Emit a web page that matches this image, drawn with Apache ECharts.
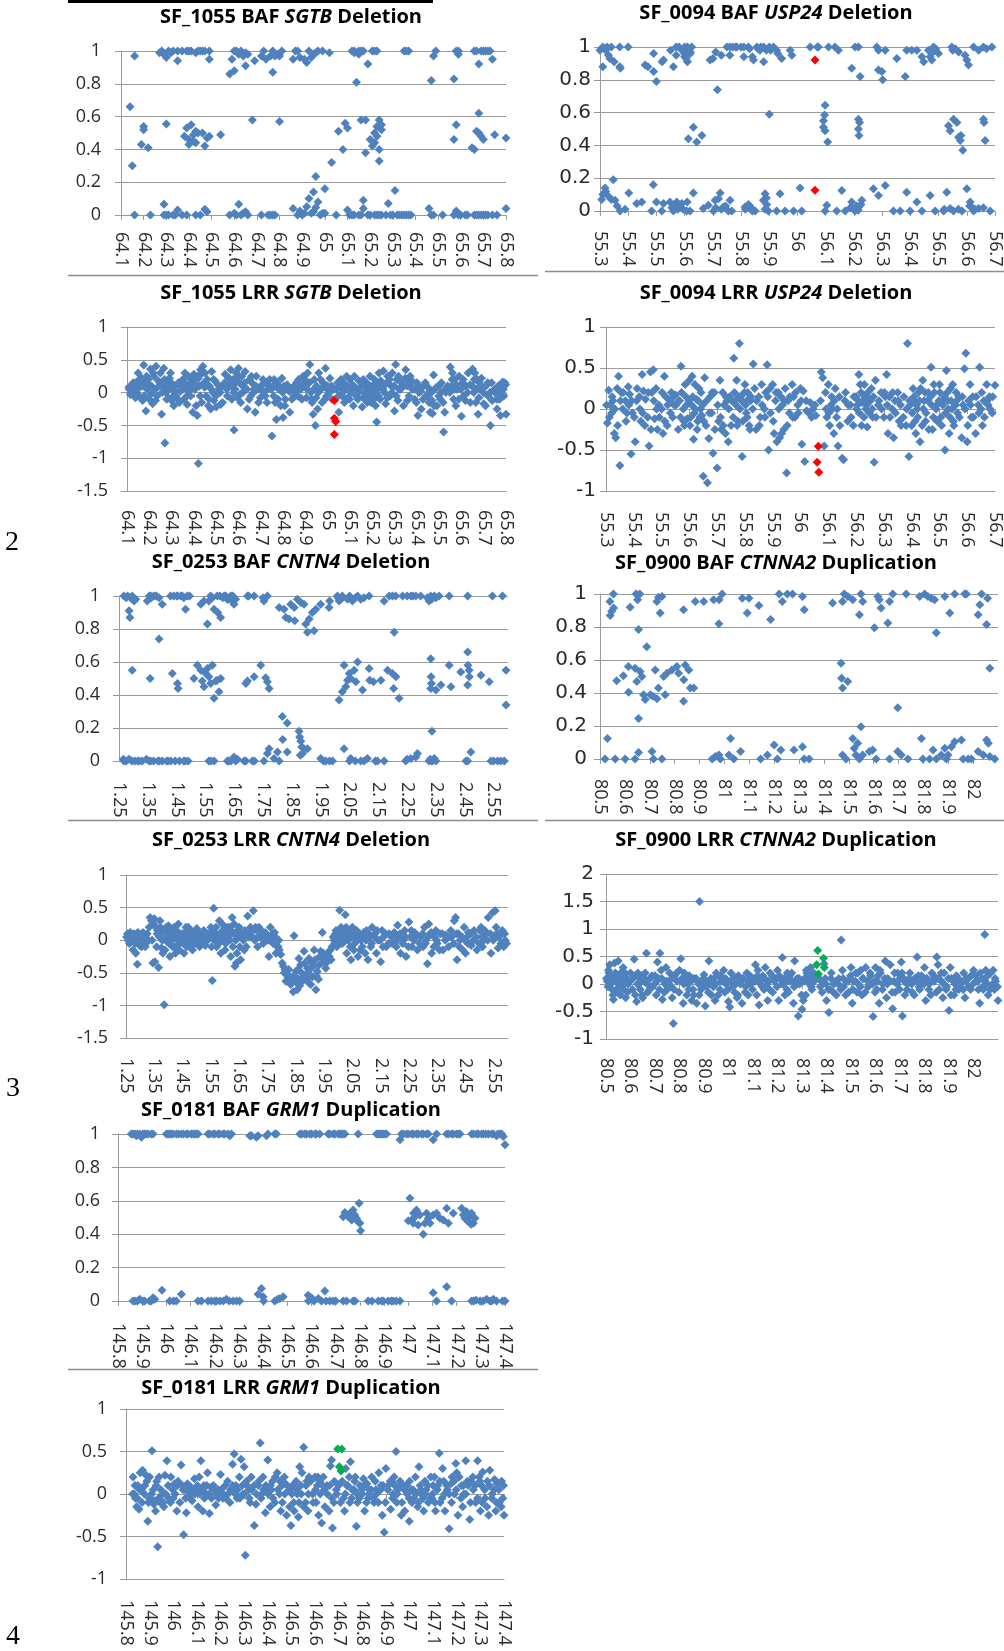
<!DOCTYPE html>
<html>
<head>
<meta charset="utf-8">
<title>BAF / LRR scatter plots</title>
<script src="https://cdn.jsdelivr.net/npm/echarts@6/dist/echarts.min.js"></script>
<style>
  html, body { margin: 0; padding: 0; background: #ffffff; }
  #chart { width: 1004px; height: 1651px; }
</style>
</head>
<body>
<div id="chart"></div>
<script>
// ---- SF_1055, SGTB region (position in Mb) ----
const baf1055 = [
  [64.16,0.97],[64.27,0.99],[64.28,1],[64.29,0.98],[64.30,0.96],[64.31,1],[64.32,0.99],[64.35,0.94],[64.35,1],[64.39,1],[64.41,1],[64.43,0.99],[64.45,1],[64.47,1],[64.49,0.95],[64.49,1],
  [64.58,0.86],[64.60,0.88],[64.59,0.95],[64.60,1],[64.62,0.98],[64.63,1],[64.65,0.99],[64.66,0.98],[64.65,0.91],[64.69,0.94],
  [64.72,0.97],[64.74,0.95],[64.76,0.97],[64.77,1],[64.77,0.87],[64.78,0.97],[64.79,0.98],[64.81,1],
  [64.86,0.95],[64.88,1],[64.89,0.96],[64.92,0.93],[64.94,0.96],[64.93,1],[64.95,0.98],[64.96,0.99],[64.99,1],[65.02,0.99],
  [65.12,1],[65.13,1],[65.14,0.81],[65.15,0.98],[65.16,1],[65.17,1],[65.19,0.92],[65.21,1],[65.23,1],
  [65.35,1],[65.37,1],[65.47,0.82],[65.48,0.97],[65.49,1],[65.57,0.83],[65.59,0.98],[65.59,1],
  [65.66,1],[65.68,0.92],[65.69,1],[65.71,1],[65.72,1],[65.74,0.95],
  [64.33,1],[64.37,1],[64.40,1],[64.44,1],[64.46,1],[64.61,1],[64.64,0.97],[64.73,1],[64.80,0.97],[64.87,1],[64.91,0.95],[64.97,1],[65.13,0.99],[65.15,1],[65.22,1],[65.36,1],[65.58,1],[65.67,1],[65.70,1],[65.73,1],
  [64.14,0.66],[64.15,0.30],[64.20,0.54],[64.20,0.52],[64.19,0.43],[64.22,0.41],[64.30,0.555],
  [64.38,0.48],[64.39,0.53],[64.40,0.46],[64.41,0.55],[64.42,0.49],[64.43,0.51],[64.43,0.44],[64.40,0.43],[64.44,0.50],[64.42,0.45],[64.46,0.50],[64.47,0.42],[64.48,0.47],[64.49,0.48],[64.54,0.49],[64.68,0.58],[64.80,0.57],
  [65.06,0.51],[65.08,0.40],[65.09,0.56],[65.10,0.53],[65.16,0.58],[65.18,0.58],[65.18,0.38],
  [65.20,0.46],[65.21,0.42],[65.22,0.44],[65.22,0.50],[65.23,0.54],[65.24,0.58],[65.24,0.33],[65.24,0.40],[65.23,0.48],[65.25,0.52],[65.25,0.55],
  [65.58,0.55],[65.57,0.46],[65.65,0.41],[65.66,0.40],[65.68,0.62],[65.67,0.51],[65.69,0.48],[65.70,0.46],[65.68,0.50],[65.75,0.49],[65.80,0.47],
  [64.93,0.10],[64.95,0.14],[64.96,0.235],[64.97,0.08],[65.00,0.16],[65.03,0.32],[65.17,0.09],[65.28,0.07],[65.31,0.15],
  [64.16,0],[64.23,0],[64.29,0.065],[64.29,0],[64.31,0],[64.33,0],[64.35,0.03],[64.39,0],[64.43,0],[64.47,0.035],[64.48,0.02],[64.58,0],[64.60,0.01],[64.62,0.065],[64.63,0],[64.65,0.02],[64.64,0.01],
  [64.72,0],[64.75,0],[64.77,0],[64.86,0.04],[64.89,0.025],[64.90,0],[64.92,0.05],[64.94,0.01],[64.96,0.045],[64.98,0],[65.00,0.01],[65.05,0],[65.10,0.03],[65.12,0],[65.15,0],[65.17,0.04],[65.19,0],
  [65.22,0],[65.24,0],[65.27,0],[65.30,0],[65.32,0],[65.34,0],[65.36,0],[65.38,0],[65.46,0.04],[65.47,0],[65.52,0],[65.58,0.025],[65.60,0],[65.62,0],[65.66,0],[65.68,0],[65.70,0],[65.72,0],[65.76,0],[65.80,0.04],
  [64.30,0],[64.34,0],[64.37,0],[64.45,0],[64.61,0],[64.66,0],[64.76,0],[64.78,0],[64.88,0],[64.91,0.01],[64.95,0.02],[64.99,0.01],[65.11,0],[65.13,0],[65.16,0],[65.20,0],[65.23,0],[65.25,0],[65.29,0],[65.33,0],[65.35,0],[65.37,0],[65.48,0],[65.57,0],[65.59,0],[65.63,0],[65.67,0],[65.69,0],[65.71,0],[65.74,0]
];
const lrr1055 = [
  [64.11,0.05],[64.115,-0.03],[64.12,0.1],[64.125,0.08],[64.13,-0.02],[64.135,0.12],[64.14,0.02],[64.145,0.17],[64.15,0.3],[64.155,-0.05],[64.16,0.1],[64.165,0.22],
  [64.17,-0.12],[64.175,0.42],[64.18,0.15],[64.185,-0.28],[64.19,0.05],[64.195,0.2],[64.2,-0.1],[64.205,0.36],[64.21,0.1],[64.215,-0.17],[64.22,0.25],[64.225,0.05],[64.23,0.4],[64.235,-0.05],[64.24,0.18],
  [64.25,0.3],[64.255,-0.33],[64.26,0.08],[64.265,0.37],[64.27,-0.77],[64.275,0.0],[64.28,0.12],[64.285,-0.08],[64.29,0.22],[64.295,0.3],[64.3,-0.12],[64.305,0.05],[64.31,-0.2],[64.315,0.1],[64.32,-0.05],[64.33,0.15],[64.335,-0.15],[64.34,0.02],
  [64.35,0.2],[64.355,-0.1],[64.36,0.3],[64.365,0.08],[64.37,-0.18],[64.375,0.25],[64.38,0.12],[64.385,-0.05],[64.39,0.18],[64.395,-0.3],[64.4,0.28],[64.405,0.05],[64.41,-0.2],[64.415,-0.35],[64.42,-1.08],[64.42,0.22],[64.425,0.1],[64.43,0.35],[64.435,-0.15],[64.44,0.4],[64.445,0.15],
  [64.45,0.3],[64.455,-0.05],[64.46,0.2],[64.465,-0.2],[64.47,0.1],[64.475,-0.25],[64.48,0.32],[64.485,0.0],[64.49,-0.12],[64.495,0.18],[64.5,-0.22],[64.51,0.05],[64.52,-0.18],[64.53,0.1],[64.54,0.28],
  [64.55,-0.05],[64.56,0.12],[64.565,0.35],[64.57,-0.1],[64.575,0.2],[64.58,-0.57],[64.585,0.05],[64.59,0.3],[64.595,-0.08],[64.6,0.37],[64.605,0.15],[64.61,-0.15],[64.615,0.25],[64.62,0.0],[64.63,0.32],[64.64,-0.25],
  [64.65,0.2],[64.655,-0.05],[64.66,0.15],[64.67,0.05],[64.675,-0.3],[64.68,0.25],[64.69,-0.15],[64.7,0.1],[64.71,0.2],[64.72,-0.05],[64.73,0.05],
  [64.74,0.2],[64.75,-0.66],[64.755,0.1],[64.76,0.2],[64.765,-0.15],[64.77,-0.41],[64.775,0.15],[64.78,0.05],[64.79,-0.2],[64.795,0.22],[64.8,-0.38],[64.805,0.1],[64.81,-0.1],[64.82,0.05],[64.83,-0.3],[64.84,-0.1],
  [64.85,0.1],[64.86,0.15],[64.865,-0.05],[64.87,0.2],[64.88,0.05],[64.885,-0.1],[64.89,0.25],[64.9,0.1],[64.905,-0.08],[64.91,0.3],[64.92,0.43],[64.925,0.0],[64.93,-0.15],[64.935,-0.33],[64.94,0.2],[64.945,-0.5],
  [64.95,0.1],[64.955,-0.25],[64.96,0.3],[64.97,0.05],[64.975,-0.15],[64.98,0.15],[64.99,0.37],[64.995,-0.05],[65.0,0.1],[65.01,0.22],[65.02,-0.1],[65.04,0.05],[65.045,0.15],
  [65.05,-0.3],[65.055,0.1],[65.06,0.2],[65.065,-0.05],[65.07,0.15],[65.075,-0.15],[65.08,0.05],[65.085,0.25],[65.09,-0.08],[65.1,0.2],[65.105,0.0],[65.11,0.12],[65.115,-0.2],[65.12,0.25],[65.13,0.05],[65.135,-0.1],[65.14,0.18],
  [65.15,0.1],[65.155,-0.22],[65.16,0.2],[65.165,0.0],[65.17,-0.1],[65.175,0.15],[65.18,0.05],[65.185,-0.05],[65.19,0.25],[65.195,-0.15],[65.2,0.1],[65.205,0.0],[65.21,0.2],[65.215,-0.2],[65.22,-0.45],[65.225,0.05],[65.23,0.3],[65.235,-0.1],[65.24,0.1],
  [65.25,0.33],[65.255,0.0],[65.26,-0.17],[65.265,0.15],[65.27,0.25],[65.28,-0.05],[65.285,0.1],[65.29,0.3],[65.3,-0.28],[65.305,0.43],[65.31,0.2],[65.315,-0.12],[65.32,0.05],[65.33,0.15],[65.34,-0.2],
  [65.35,0.35],[65.355,0.1],[65.36,0.2],[65.365,-0.05],[65.37,0.25],[65.38,0.05],[65.39,-0.1],[65.4,0.15],[65.405,-0.35],[65.41,0.0],[65.42,-0.25],[65.43,0.1],[65.44,-0.05],
  [65.45,0.08],[65.455,-0.15],[65.46,-0.3],[65.465,0.0],[65.47,-0.32],[65.475,0.27],[65.48,0.05],[65.49,-0.2],[65.5,0.1],[65.505,-0.1],[65.51,0.15],[65.52,-0.6],[65.525,-0.3],[65.53,0.0],
  [65.55,0.39],[65.555,0.1],[65.56,0.3],[65.565,-0.1],[65.57,0.2],[65.575,-0.2],[65.58,0.05],[65.59,0.25],[65.6,-0.36],[65.605,0.15],[65.61,-0.05],[65.62,0.1],[65.63,0.3],[65.64,-0.15],
  [65.65,0.36],[65.655,0.0],[65.66,0.3],[65.665,-0.15],[65.67,0.2],[65.675,-0.33],[65.68,0.15],[65.685,0.05],[65.69,0.22],[65.7,-0.17],[65.71,0.1],[65.72,-0.05],[65.73,-0.5],[65.735,0.15],
  [65.75,0.0],[65.76,-0.25],[65.765,0.1],[65.77,-0.1],[65.775,-0.35],[65.78,0.05],[65.785,0.16],[65.79,-0.05],[65.795,0.15],[65.8,-0.33],
  [64.108,0.08],[64.118,0.0],[64.128,0.15],[64.138,-0.08],[64.148,0.05],[64.158,0.2],[64.168,0.1],[64.178,-0.05],[64.188,0.25],[64.198,0.12],[64.208,-0.02],[64.218,0.3],[64.228,-0.12],[64.238,0.08],[64.248,0.15],[64.258,0.0],[64.268,0.2],[64.278,-0.1],[64.288,0.05],[64.298,0.15],
  [64.308,-0.05],[64.318,0.02],[64.328,-0.1],[64.338,0.1],[64.348,0.05],[64.358,0.15],[64.368,-0.05],[64.378,0.02],[64.388,0.1],[64.398,0.2],[64.408,0.12],[64.418,0.25],[64.428,-0.05],[64.438,0.3],[64.448,0.08],[64.458,0.12],[64.468,-0.1],[64.478,0.05],[64.488,0.2],[64.498,-0.05],
  [64.508,0.12],[64.518,0.0],[64.528,-0.15],[64.538,0.15],[64.548,0.05],[64.558,0.22],[64.568,0.1],[64.578,0.0],[64.588,0.15],[64.598,0.25],[64.608,-0.02],[64.618,0.1],[64.628,0.15],[64.638,0.05],[64.648,-0.1],[64.658,0.25],[64.668,0.0],[64.678,0.1],[64.688,0.05],[64.698,-0.08],
  [64.708,0.02],[64.718,0.15],[64.728,-0.15],[64.738,0.1],[64.748,0.05],[64.758,-0.05],[64.768,0.1],[64.778,-0.1],[64.788,0.08],[64.798,0.0],[64.808,-0.2],[64.818,0.12],[64.828,0.02],[64.838,0.05],[64.848,-0.05],[64.858,0.02],[64.868,0.1],[64.878,-0.08],[64.888,0.12],[64.898,0.2],
  [64.908,0.05],[64.918,0.15],[64.928,-0.1],[64.938,0.05],[64.948,-0.08],[64.958,0.0],[64.968,0.2],[64.978,0.08],[64.988,-0.1],[64.998,0.05],[65.008,0.0],[65.018,0.1],[65.028,0.05],[65.048,-0.05],[65.058,0.08],[65.068,0.0],[65.078,0.12],[65.088,0.1],[65.098,-0.1],
  [65.108,0.05],[65.118,0.1],[65.128,-0.05],[65.138,0.0],[65.148,0.08],[65.158,-0.08],[65.168,0.12],[65.178,-0.15],[65.188,0.1],[65.198,0.05],[65.208,-0.1],[65.218,0.12],[65.228,-0.05],[65.238,0.18],[65.248,0.05],[65.258,0.12],[65.268,-0.08],[65.278,0.2],[65.288,0.0],[65.298,0.1],
  [65.308,-0.05],[65.318,0.25],[65.328,0.05],[65.338,0.1],[65.348,0.22],[65.358,-0.12],[65.368,0.12],[65.378,0.18],[65.388,0.05],[65.398,-0.15],[65.408,0.1],[65.418,0.02],[65.428,-0.1],[65.438,0.15],[65.448,-0.05],[65.458,0.02],[65.468,-0.12],[65.478,-0.2],[65.488,0.08],[65.498,-0.05],
  [65.508,0.0],[65.518,-0.15],[65.528,0.05],[65.538,0.1],[65.548,0.0],[65.558,0.2],[65.568,0.05],[65.578,0.12],[65.588,-0.1],[65.598,0.05],[65.608,0.2],[65.618,-0.12],[65.628,0.0],[65.638,0.12],[65.648,0.1],[65.658,0.2],[65.668,0.05],[65.678,-0.08],[65.688,0.1],[65.698,0.0],
  [65.708,-0.2],[65.718,0.15],[65.728,0.0],[65.738,-0.12],[65.748,0.05],[65.758,-0.1],[65.768,0.0],[65.778,-0.08],[65.788,0.05],[65.798,0.12]
];
const lrr1055Del = [[65.03,-0.12],[65.03,-0.39],[65.036,-0.44],[65.03,-0.64]];

// ---- SF_0094, USP24 region ----
const baf0094 = [
  [55.30,0.98],[55.31,0.88],[55.32,0.98],[55.33,0.95],[55.34,1],[55.335,0.93],[55.35,0.91],
  [55.37,1],[55.37,0.88],[55.372,0.87],[55.40,1],[55.46,0.89],[55.47,0.88],[55.49,0.96],[55.49,0.85],[55.50,0.79],[55.52,0.91],[55.525,0.92],
  [55.55,0.98],[55.56,0.88],[55.57,0.95],[55.57,1],[55.58,1],[55.59,0.98],[55.60,0.94],[55.60,0.96],[55.61,1],[55.61,0.91],[55.62,0.96],[55.625,1],[55.615,0.97],[55.605,0.93],
  [55.69,0.92],[55.70,0.93],[55.71,0.97],[55.716,0.74],
  [55.73,0.95],[55.75,1],[55.76,0.95],[55.77,1],[55.785,1],[55.81,0.94],[55.81,1],[55.826,1],[55.84,0.94],[55.844,0.92],[55.856,1],[55.867,0.98],[55.88,1],[55.88,0.91],[55.89,0.98],
  [55.915,1],[55.926,0.98],[55.93,0.96],[55.944,0.93],[55.974,0.98],[55.98,0.95],
  [56.045,1],[56.074,1],[56.11,1],[56.133,1],[56.145,0.98],
  [56.192,0.87],[56.204,1],[56.216,1],[56.222,0.82],
  [56.281,1],[56.287,0.98],[56.287,0.86],[56.299,0.85],[56.302,0.80],[56.311,0.98],[56.352,0.93],
  [56.382,0.82],[56.387,0.98],[56.405,0.98],[56.423,0.98],[56.441,0.94],[56.447,0.91],[56.464,0.98],[56.47,0.94],[56.476,0.92],[56.482,1],[56.488,0.98],[56.50,0.96],
  [56.547,1],[56.559,0.99],[56.571,0.97],[56.594,0.95],[56.60,0.92],[56.606,0.89],[56.624,1],[56.642,0.98],[56.659,1],[56.689,1],
  [55.31,1],[55.325,1],[55.60,1],[55.595,0.99],[55.62,0.97],[55.76,1],[55.78,1],[55.80,1],[55.83,0.99],[55.86,0.99],[55.87,1],[55.90,1],[55.905,0.98],[56.07,1],[56.48,0.97],[56.49,0.99],[56.55,0.98],[56.67,0.99],
  [55.613,0.44],[55.631,0.51],[55.643,0.42],[55.661,0.46],[55.90,0.59],
  [56.098,0.645],[56.096,0.585],[56.092,0.55],[56.092,0.51],[56.098,0.49],[56.107,0.42],
  [56.216,0.56],[56.22,0.54],[56.216,0.50],[56.218,0.46],
  [56.535,0.52],[56.541,0.49],[56.553,0.56],[56.565,0.54],[56.571,0.45],[56.577,0.43],[56.579,0.46],[56.586,0.37],
  [56.659,0.56],[56.661,0.54],[56.665,0.43],
  [55.306,0.07],[55.318,0.14],[55.33,0.09],[55.347,0.19],[55.353,0.065],[55.361,0.03],[55.371,0],[55.389,0.01],[55.402,0.11],
  [55.43,0.045],[55.448,0.055],[55.483,0],[55.489,0.16],[55.50,0.055],[55.519,0],[55.525,0.045],
  [55.548,0.055],[55.56,0],[55.572,0.055],[55.584,0.025],[55.607,0],[55.609,0.055],[55.619,0],[55.631,0.11],
  [55.666,0.015],[55.684,0.035],[55.702,0],[55.708,0.065],[55.72,0.075],[55.726,0.11],[55.737,0.025],[55.755,0],[55.761,0.065],[55.767,0],
  [55.814,0.025],[55.826,0.04],[55.838,0.015],[55.85,0],
  [55.879,0.065],[55.885,0.105],[55.891,0.04],[55.897,0],[55.926,0],[55.938,0.105],[55.956,0],[55.986,0],[56.009,0.14],[56.015,0],
  [56.098,0],[56.104,0.035],[56.139,0],[56.157,0.125],[56.169,0],[56.187,0.02],[56.192,0.055],[56.204,0],[56.216,0.025],[56.228,0.065],
  [56.269,0.135],[56.287,0.095],[56.311,0.155],[56.34,0],[56.364,0],[56.387,0.115],[56.399,0],[56.423,0.055],[56.441,0],[56.47,0.095],[56.488,0],
  [56.518,0],[56.529,0.115],[56.541,0.015],[56.553,0],[56.583,0],[56.60,0.135],[56.612,0.055],[56.624,0],[56.642,0.015],[56.659,0.02],[56.683,0],
  [55.31,0.1],[55.32,0.12],[55.34,0.07],[55.555,0.02],[55.565,0.03],[55.575,0.01],[55.59,0.045],[55.595,0.01],[55.71,0.02],[55.73,0.01],[55.745,0.03],[55.815,0.01],[55.83,0.03],[55.84,0],[55.885,0.01],[55.89,0.08],
  [56.20,0.01],[56.21,0.03],[56.215,0.005],[56.225,0.04],[56.52,0.01],[56.57,0.01],[56.61,0.03],[56.62,0.02],[56.63,0.01]
];
const baf0094Del = [[56.062,0.92],[56.062,0.126]];
const lrr0094 = [
  [55.305,-0.17],[55.31,0.23],[55.315,0.05],[55.32,-0.05],[55.325,0.1],[55.33,-0.3],[55.335,-0.35],[55.34,0.25],[55.345,0.4],[55.35,-0.69],[55.355,0.2],[55.36,0.0],[55.37,0.1],[55.375,-0.05],[55.38,0.27],[55.385,0.18],[55.39,-0.55],[55.395,-0.05],
  [55.405,-0.4],[55.41,0.1],[55.42,0.15],[55.425,-0.15],[55.43,0.42],[55.435,0.22],[55.44,-0.2],[55.45,-0.1],[55.455,-0.45],[55.46,0.45],[55.465,0.2],[55.47,0.48],[55.475,-0.12],[55.48,0.25],[55.485,-0.25],[55.49,0.05],
  [55.5,0.0],[55.505,-0.3],[55.51,0.4],[55.515,0.15],[55.52,-0.2],[55.53,0.1],[55.535,0.2],[55.54,-0.1],[55.545,0.05],[55.55,0.17],[55.56,-0.25],[55.565,0.1],[55.57,0.52],[55.58,-0.15],[55.585,0.3],[55.59,0.05],
  [55.6,0.35],[55.605,-0.1],[55.61,0.4],[55.615,-0.37],[55.62,0.3],[55.625,0.12],[55.63,-0.15],[55.635,0.25],[55.64,0.0],[55.645,-0.08],[55.65,-0.82],[55.655,0.38],[55.66,-0.2],[55.665,-0.9],[55.67,-0.36],[55.675,0.15],[55.68,-0.05],[55.685,-0.54],[55.69,0.2],
  [55.7,-0.72],[55.705,-0.15],[55.71,0.35],[55.715,-0.25],[55.72,0.2],[55.725,0.05],[55.73,-0.3],[55.735,0.1],[55.74,-0.4],[55.745,0.15],[55.75,-0.2],[55.76,0.62],[55.765,0.1],[55.77,0.35],[55.775,-0.15],[55.78,0.8],[55.785,0.15],[55.79,-0.58],
  [55.8,0.3],[55.805,-0.05],[55.81,0.2],[55.815,-0.2],[55.82,0.1],[55.83,0.55],[55.835,0.25],[55.84,-0.25],[55.85,0.15],[55.855,-0.1],[55.86,0.3],[55.87,0.0],[55.875,0.2],[55.88,0.54],[55.885,-0.5],[55.89,0.25],
  [55.9,0.3],[55.905,-0.3],[55.91,0.1],[55.915,-0.4],[55.92,0.2],[55.925,-0.35],[55.93,0.15],[55.935,0.05],[55.94,-0.25],[55.945,0.25],[55.95,-0.78],[55.955,0.1],[55.96,-0.05],[55.97,0.3],[55.975,0.15],[55.98,-0.1],[55.99,0.05],
  [56.0,0.25],[56.005,-0.43],[56.01,0.22],[56.015,-0.64],[56.02,0.1],[56.03,-0.05],[56.035,0.08],[56.04,-0.1],[56.045,0.0],[56.055,-0.08],[56.075,0.45],[56.08,0.38],[56.085,-0.45],[56.09,0.2],[56.095,-0.1],
  [56.1,0.3],[56.105,-0.2],[56.11,0.05],[56.115,0.0],[56.12,-0.3],[56.125,0.25],[56.13,-0.1],[56.135,-0.45],[56.14,0.15],[56.15,-0.6],[56.155,-0.62],[56.16,0.1],[56.17,-0.15],[56.18,0.05],[56.19,-0.2],
  [56.2,0.15],[56.205,0.05],[56.21,0.42],[56.215,0.3],[56.22,-0.2],[56.225,0.1],[56.23,0.3],[56.235,0.0],[56.24,-0.22],[56.25,0.12],[56.255,0.25],[56.26,-0.1],[56.265,-0.65],[56.27,0.35],[56.28,0.05],[56.29,0.2],
  [56.3,-0.1],[56.305,0.15],[56.31,0.42],[56.315,-0.3],[56.32,0.15],[56.33,0.0],[56.335,-0.35],[56.34,0.1],[56.35,0.2],[56.355,-0.15],[56.36,0.05],[56.37,-0.1],[56.38,-0.2],[56.385,0.8],[56.39,-0.58],[56.395,0.05],
  [56.4,-0.2],[56.405,0.25],[56.41,0.1],[56.415,-0.3],[56.42,0.0],[56.425,0.2],[56.43,-0.4],[56.44,0.35],[56.445,0.1],[56.45,-0.15],[56.46,0.2],[56.47,0.51],[56.475,-0.25],[56.48,0.3],[56.49,0.05],
  [56.5,0.3],[56.505,-0.1],[56.51,0.1],[56.52,-0.5],[56.525,0.47],[56.53,0.1],[56.535,-0.3],[56.54,0.25],[56.545,0.0],[56.55,-0.15],[56.56,0.2],[56.565,-0.05],[56.57,0.15],[56.58,-0.35],[56.585,0.05],
  [56.59,0.49],[56.595,0.68],[56.6,-0.4],[56.605,0.1],[56.61,0.3],[56.615,-0.1],[56.62,0.15],[56.63,-0.3],[56.64,0.05],[56.645,0.51],[56.65,0.0],[56.655,-0.2],[56.66,0.1],[56.67,0.3],[56.675,0.05],[56.68,0.15],[56.69,-0.05],[56.7,0.29],
  [55.302,0.05],[55.312,-0.1],[55.322,0.15],[55.332,0.0],[55.342,-0.2],[55.352,0.1],[55.362,0.2],[55.372,-0.15],[55.382,0.05],[55.392,0.1],[55.402,-0.1],[55.412,0.25],[55.422,0.0],[55.432,-0.05],[55.442,0.12],[55.452,0.2],[55.462,-0.25],[55.472,0.1],[55.482,0.0],[55.492,-0.1],
  [55.502,0.2],[55.512,-0.15],[55.522,0.05],[55.532,-0.05],[55.542,0.15],[55.552,0.05],[55.562,0.1],[55.568,-0.1],[55.572,0.2],[55.578,0.0],[55.582,-0.2],[55.588,0.15],[55.592,-0.12],[55.598,0.1],[55.602,-0.2],[55.608,0.05],[55.612,0.15],[55.618,-0.05],[55.622,0.0],[55.628,-0.25],
  [55.632,0.1],[55.638,-0.1],[55.642,0.2],[55.648,0.05],[55.652,-0.15],[55.662,0.1],[55.672,-0.05],[55.682,0.2],[55.692,-0.25],[55.702,0.05],[55.712,-0.1],[55.722,-0.2],[55.732,0.15],[55.742,0.0],[55.752,0.1],[55.758,-0.1],[55.762,0.2],[55.768,0.05],[55.772,-0.2],[55.778,0.15],
  [55.782,0.0],[55.788,0.1],[55.792,-0.15],[55.798,0.2],[55.802,0.05],[55.808,-0.1],[55.812,0.12],[55.818,-0.25],[55.822,0.15],[55.828,0.0],[55.842,0.1],[55.852,-0.2],[55.862,0.05],[55.872,-0.1],[55.882,0.15],[55.892,-0.05],[55.902,-0.15],[55.912,0.2],[55.922,0.0],[55.932,-0.3],
  [55.942,0.1],[55.952,-0.2],[55.962,0.15],[55.972,-0.1],[55.982,0.2],[55.992,-0.05],[56.002,0.1],[56.022,-0.02],[56.052,0.05],[56.072,0.1],[56.092,0.0],[56.102,-0.05],[56.112,0.15],[56.122,0.1],[56.132,0.0],[56.142,-0.2],[56.162,0.2],[56.172,0.05],[56.182,-0.1],[56.192,0.15],
  [56.202,0.0],[56.208,0.1],[56.212,-0.05],[56.218,0.2],[56.222,0.08],[56.228,-0.1],[56.232,0.15],[56.238,0.05],[56.242,0.2],[56.248,-0.05],[56.252,0.1],[56.258,0.0],[56.262,0.15],[56.272,-0.1],[56.282,0.1],[56.292,0.0],[56.302,0.2],[56.312,0.05],[56.322,-0.1],[56.332,0.2],
  [56.342,-0.05],[56.352,0.1],[56.362,-0.2],[56.372,0.15],[56.382,0.0],[56.392,0.1],[56.402,-0.05],[56.408,0.15],[56.412,-0.15],[56.418,0.05],[56.422,-0.1],[56.428,0.1],[56.432,0.25],[56.438,-0.2],[56.442,0.0],[56.448,0.2],[56.452,-0.05],[56.458,0.1],[56.462,-0.25],[56.468,0.15],
  [56.472,0.05],[56.478,-0.1],[56.482,0.2],[56.488,0.0],[56.492,-0.15],[56.498,0.1],[56.502,0.2],[56.508,-0.2],[56.512,0.05],[56.518,0.15],[56.522,-0.05],[56.528,0.2],[56.532,0.0],[56.538,-0.1],[56.542,0.1],[56.548,0.3],[56.552,-0.2],[56.558,0.05],[56.562,0.1],[56.572,-0.1],
  [56.582,0.15],[56.592,0.0],[56.602,-0.2],[56.612,0.05],[56.622,-0.1],[56.632,0.15],[56.642,-0.05],[56.652,0.2],[56.662,-0.1],[56.672,0.1],[56.682,0.0],[56.692,0.15]
];
const lrr0094Del = [[56.064,-0.455],[56.06,-0.65],[56.066,-0.77]];

// ---- SF_0253, CNTN4 region ----
const baf0253 = [
  [1.267,1],[1.275,0.99],[1.28,1],[1.285,0.91],[1.288,0.87],[1.29,0.99],[1.296,1],[1.302,0.97],[1.308,0.98],
  [1.348,0.97],[1.355,1],[1.362,0.99],[1.37,1],[1.377,1],[1.389,0.99],[1.40,0.95],[1.429,1],[1.44,1],[1.453,1],[1.464,1],[1.475,0.99],[1.481,0.92],[1.487,1],[1.495,1],
  [1.534,0.95],[1.545,0.97],[1.557,0.83],[1.562,0.97],[1.568,1],[1.574,0.99],[1.58,0.92],[1.591,1],[1.593,0.9],[1.603,0.87],[1.615,1],[1.626,0.98],[1.638,1],[1.643,0.97],[1.649,0.95],[1.655,0.98],
  [1.696,1],[1.719,1],[1.753,0.97],[1.765,1],
  [1.806,0.93],[1.823,0.92],[1.829,0.87],[1.84,0.86],[1.846,0.95],[1.858,0.93],[1.86,0.85],[1.869,0.98],[1.881,0.96],[1.892,0.95],
  [1.898,0.83],[1.904,0.78],[1.91,0.86],[1.921,0.9],[1.927,0.79],[1.933,0.92],[1.95,0.95],[1.979,0.93],[1.981,0.97],
  [2.008,1],[2.014,0.97],[2.025,1],[2.043,0.98],[2.06,0.97],[2.078,1],[2.089,0.98],[2.118,1],
  [2.17,0.97],[2.188,1],[2.199,1],[2.205,0.78],[2.234,1],[2.263,1],[2.28,1],[2.297,1],
  [2.326,0.97],[2.332,1],[2.344,1],[2.361,1],[2.396,1],[2.46,1],[2.546,1],[2.581,1],
  [1.36,1],[1.38,1],[1.45,1],[1.47,1],[1.60,1],[1.61,0.99],[1.62,1],[1.63,0.98],[1.64,0.99],[1.645,1],[1.70,1],[1.75,0.99],[2.01,0.99],[2.02,0.98],[2.05,1],[2.07,0.99],[2.10,0.99],[2.21,1],[2.25,1],[2.27,1],[2.32,0.99],[2.335,0.98],[2.35,0.99],
  [1.296,0.55],[1.358,0.5],[1.389,0.74],[1.435,0.53],[1.453,0.47],[1.455,0.44],
  [1.51,0.5],[1.522,0.58],[1.534,0.55],[1.539,0.485],[1.545,0.45],[1.551,0.53],[1.557,0.56],[1.562,0.51],[1.568,0.47],[1.574,0.58],[1.58,0.38],[1.586,0.485],[1.591,0.49],[1.597,0.42],[1.603,0.5],
  [1.69,0.47],[1.696,0.485],[1.719,0.51],[1.742,0.58],[1.759,0.505],[1.765,0.48],[1.771,0.44],
  [2.014,0.37],[2.025,0.42],[2.031,0.58],[2.037,0.45],[2.043,0.49],[2.049,0.53],[2.054,0.5],[2.066,0.55],[2.078,0.6],[2.072,0.48],[2.095,0.43],
  [2.118,0.56],[2.12,0.49],[2.133,0.48],[2.159,0.49],[2.182,0.55],[2.199,0.53],[2.203,0.44],[2.211,0.51],[2.222,0.38],
  [2.332,0.62],[2.333,0.51],[2.334,0.47],[2.332,0.44],[2.35,0.43],[2.367,0.46],[2.396,0.58],[2.402,0.45],
  [2.436,0.54],[2.46,0.66],[2.461,0.58],[2.465,0.55],[2.466,0.51],[2.46,0.46],[2.506,0.52],[2.535,0.48],
  [2.593,0.55],[2.593,0.34],
  [1.267,0],[1.275,0],[1.285,0.01],[1.295,0],[1.305,0],[1.315,0],[1.33,0],[1.345,0.01],[1.355,0],[1.37,0],[1.385,0],[1.40,0],[1.415,0],[1.43,0],[1.445,0],[1.46,0],[1.475,0],[1.49,0],
  [1.562,0],[1.58,0],[1.626,0],[1.638,0],[1.649,0.025],[1.655,0],[1.661,0.01],
  [1.684,0],[1.713,0],[1.753,0],[1.765,0.045],[1.771,0.075],[1.788,0.015],[1.80,0.055],[1.806,0],
  [1.817,0.27],[1.818,0.13],[1.834,0.23],[1.834,0.055],
  [1.875,0.18],[1.877,0.145],[1.881,0.12],[1.884,0.085],[1.887,0.045],[1.879,0.035],[1.892,0.075],[1.904,0.075],
  [1.95,0.015],[1.968,0],[1.991,0],
  [2.031,0.075],[2.054,0.015],[2.089,0],[2.112,0.015],[2.147,0],[2.17,0],
  [2.245,0],[2.263,0.015],[2.28,0.025],[2.286,0.045],
  [2.326,0],[2.338,0],[2.344,0.015],[2.336,0.18],
  [2.454,0],[2.471,0.055],[2.541,0],[2.564,0],[2.587,0],
  [1.265,0.01],[1.32,0],[1.36,0],[1.39,0],[1.42,0],[1.48,0],[1.57,0],[1.63,0],[1.645,0.01],[1.69,0],[1.72,0],[1.96,0],[1.98,0],[2.05,0],[2.07,0],[2.10,0],[2.14,0],[2.25,0.01],[2.335,0],[2.35,0],[2.33,0.01],[2.46,0],[2.55,0],[2.575,0]
];
const lrr0253 = [
  [1.255,0.1],[1.26,0.05],[1.262,-0.05],[1.265,0.12],[1.27,0.0],[1.275,-0.15],[1.28,0.08],[1.285,-0.2],[1.29,-0.37],[1.295,0.1],[1.3,0.05],[1.305,-0.1],[1.31,0.12],[1.315,0.03],[1.32,-0.05],[1.325,0.1],[1.33,0.0],[1.335,0.35],[1.34,0.3],
  [1.345,-0.35],[1.35,0.33],[1.352,-0.33],[1.355,0.2],[1.36,0.1],[1.365,-0.42],[1.37,0.3],[1.375,-0.12],[1.38,-0.2],[1.385,-0.99],[1.39,0.0],[1.395,0.15],[1.4,0.22],[1.405,-0.25],[1.41,0.1],[1.415,-0.1],[1.42,0.2],[1.425,-0.2],[1.43,0.05],[1.435,0.25],[1.44,-0.05],
  [1.45,0.1],[1.455,-0.2],[1.46,0.05],[1.465,-0.1],[1.47,0.2],[1.475,0.0],[1.48,0.15],[1.485,-0.15],[1.49,0.1],[1.495,-0.05],[1.5,0.18],[1.505,0.02],[1.51,-0.1],[1.52,0.05],[1.525,0.15],[1.53,-0.08],[1.54,0.1],
  [1.55,0.2],[1.555,-0.62],[1.56,0.49],[1.565,0.1],[1.57,-0.1],[1.575,0.05],[1.58,0.3],[1.585,-0.2],[1.59,0.25],[1.595,0.0],[1.6,-0.15],[1.605,0.12],[1.61,0.05],[1.615,0.2],[1.62,-0.25],[1.625,0.35],[1.63,0.1],[1.635,-0.4],[1.64,-0.35],[1.645,0.15],
  [1.65,0.2],[1.655,-0.3],[1.66,0.1],[1.665,0.0],[1.67,0.15],[1.675,-0.1],[1.68,0.37],[1.685,0.05],[1.69,0.2],[1.7,0.45],[1.705,0.0],[1.71,0.15],[1.715,-0.1],[1.72,0.2],[1.725,0.05],[1.73,0.1],[1.735,-0.05],
  [1.745,0.1],[1.75,0.0],[1.755,-0.25],[1.76,0.2],[1.765,0.05],[1.77,-0.05],[1.775,0.12],[1.78,-0.2],[1.785,-0.1],[1.79,0.0],[1.844,0.07],
  [1.797,-0.22],[1.809,-0.5],[1.815,-0.63],[1.823,-0.58],[1.832,-0.68],[1.841,-0.79],[1.85,-0.48],[1.855,-0.76],[1.861,-0.28],[1.867,-0.38],[1.873,-0.63],[1.879,-0.17],[1.885,-0.53],[1.891,-0.43],[1.897,-0.28],[1.903,-0.68],[1.909,-0.56],[1.915,-0.15],[1.921,-0.76],[1.926,-0.48],[1.932,-0.38],[1.938,-0.17],[1.944,0.12],[1.95,-0.28],[1.956,-0.43],[1.968,-0.25],
  [1.825,-0.45],[1.86,-0.6],[1.87,-0.5],[1.895,-0.65],[1.912,-0.4],[1.93,-0.6],[1.975,-0.3],
  [1.985,0.0],[1.99,0.1],[1.995,-0.1],[2.0,0.05],[2.005,0.46],[2.01,0.2],[2.015,-0.05],[2.02,0.15],[2.025,0.39],[2.03,-0.2],[2.035,0.0],[2.04,0.1],[2.045,-0.3],[2.05,0.2],[2.055,-0.15],[2.06,0.05],[2.065,0.15],[2.07,-0.25],[2.075,0.1],[2.08,0.0],[2.085,-0.1],[2.09,0.12],[2.095,-0.2],
  [2.1,0.15],[2.105,-0.3],[2.11,0.05],[2.115,-0.1],[2.12,0.2],[2.13,0.1],[2.135,-0.2],[2.14,0.0],[2.15,-0.33],[2.155,0.15],[2.16,0.05],[2.17,-0.1],[2.18,0.1],[2.19,-0.05],
  [2.2,0.1],[2.205,-0.1],[2.21,0.23],[2.215,0.05],[2.22,-0.2],[2.23,0.0],[2.235,0.15],[2.24,-0.25],[2.25,0.28],[2.255,0.05],[2.26,-0.1],[2.27,0.12],[2.28,-0.15],[2.29,0.05],
  [2.3,-0.1],[2.305,0.2],[2.31,0.0],[2.315,-0.36],[2.32,0.25],[2.325,0.1],[2.33,-0.2],[2.34,0.05],[2.345,0.15],[2.35,-0.05],[2.36,0.1],[2.37,-0.15],[2.38,0.08],[2.39,-0.1],
  [2.4,0.05],[2.41,0.3],[2.415,0.35],[2.42,-0.3],[2.425,0.1],[2.43,0.0],[2.44,-0.15],[2.445,0.2],[2.45,-0.2],[2.455,0.05],[2.46,0.12],[2.47,-0.08],[2.48,0.15],[2.49,-0.15],
  [2.5,0.15],[2.505,0.2],[2.51,-0.1],[2.515,0.0],[2.52,0.1],[2.53,0.35],[2.54,-0.2],[2.545,0.42],[2.55,0.05],[2.555,0.45],[2.56,0.1],[2.565,-0.12],[2.57,0.08],[2.575,-0.05],[2.58,0.15],[2.585,-0.1],[2.59,0.0],
  [1.252,0.05],[1.258,0.0],[1.262,0.08],[1.268,-0.02],[1.272,0.05],[1.278,0.1],[1.282,-0.05],[1.288,0.02],[1.292,0.12],[1.298,-0.08],[1.302,0.08],[1.308,0.0],[1.312,0.05],[1.318,-0.1],[1.322,0.02],[1.332,0.2],[1.342,0.0],[1.348,0.25],[1.358,-0.1],[1.362,0.15],
  [1.368,0.05],[1.372,0.2],[1.378,0.0],[1.382,0.12],[1.388,-0.15],[1.392,0.2],[1.398,0.05],[1.402,-0.05],[1.408,0.15],[1.412,0.0],[1.418,0.1],[1.422,-0.1],[1.428,0.15],[1.432,0.0],[1.438,-0.15],[1.442,0.1],[1.448,0.05],[1.452,-0.05],[1.458,0.12],[1.462,0.2],
  [1.468,-0.05],[1.472,0.08],[1.478,-0.1],[1.482,0.05],[1.488,0.12],[1.498,0.0],[1.508,0.1],[1.518,-0.05],[1.528,0.08],[1.538,0.0],[1.548,0.05],[1.552,-0.1],[1.558,0.15],[1.562,0.0],[1.568,0.2],[1.572,0.08],[1.578,-0.05],[1.582,0.1],[1.588,0.0],[1.592,0.15],
  [1.598,0.05],[1.602,-0.05],[1.608,0.2],[1.612,0.1],[1.618,0.0],[1.622,0.15],[1.628,-0.1],[1.632,0.25],[1.638,0.0],[1.642,-0.2],[1.648,0.05],[1.652,-0.1],[1.658,0.05],[1.668,-0.15],[1.678,0.1],[1.688,0.12],[1.698,0.05],[1.708,0.2],[1.718,0.05],[1.728,0.15],
  [1.738,0.02],[1.742,0.12],[1.748,0.05],[1.758,0.0],[1.768,0.1],[1.778,0.05],[1.788,-0.1],[1.792,-0.15],
  [1.802,-0.35],[1.806,-0.4],[1.812,-0.45],[1.818,-0.52],[1.828,-0.55],[1.836,-0.6],[1.846,-0.55],[1.852,-0.65],[1.858,-0.45],[1.864,-0.7],[1.878,-0.55],[1.882,-0.35],[1.888,-0.6],[1.893,-0.5],[1.9,-0.45],[1.906,-0.35],[1.918,-0.3],[1.923,-0.55],[1.935,-0.25],[1.942,-0.35],
  [1.948,-0.2],[1.958,-0.35],[1.962,-0.2],[1.972,-0.15],[1.978,-0.1],
  [1.982,0.05],[1.988,-0.05],[1.992,0.15],[1.998,0.0],[2.002,0.1],[2.008,-0.05],[2.012,0.05],[2.018,0.12],[2.022,0.0],[2.028,0.2],[2.032,0.05],[2.038,0.15],[2.042,-0.1],[2.048,0.05],[2.052,0.1],[2.058,-0.05],[2.062,0.12],[2.068,0.0],[2.072,0.08],[2.078,-0.15],
  [2.088,0.05],[2.098,0.0],[2.108,0.1],[2.118,-0.05],[2.128,0.05],[2.138,0.15],[2.148,0.0],[2.158,-0.1],[2.168,0.1],[2.178,-0.05],[2.188,0.05],[2.198,0.12],[2.208,0.0],[2.218,0.1],[2.228,-0.05],[2.238,0.05],[2.248,-0.1],[2.258,0.15],[2.268,0.0],[2.278,0.08],
  [2.288,-0.05],[2.298,0.1],[2.308,-0.05],[2.318,0.05],[2.328,0.12],[2.338,-0.1],[2.348,0.0],[2.358,-0.15],[2.368,0.1],[2.378,0.0],[2.388,0.05],[2.398,0.15],[2.408,-0.05],[2.418,0.1],[2.428,-0.1],[2.438,0.05],[2.448,0.0],[2.458,-0.05],[2.468,0.1],[2.478,0.0],
  [2.488,0.05],[2.498,-0.05],[2.508,0.05],[2.518,0.15],[2.528,0.0],[2.538,0.1],[2.548,0.0],[2.558,0.2],[2.568,0.05],[2.578,-0.05],[2.588,0.1],[2.595,-0.05]
];

// ---- SF_0900, CTNNA2 region ----
const baf0900 = [
  [80.54,0.955],[80.541,0.87],[80.547,0.895],[80.554,1],[80.555,0.915],
  [80.621,0.92],[80.645,1],[80.651,0.965],[80.655,0.785],[80.66,1],
  [80.729,0.955],[80.735,0.98],[80.742,0.885],[80.749,0.985],
  [80.836,0.905],[80.883,0.955],[80.917,0.955],
  [80.957,0.965],[80.978,0.82],[80.979,0.965],[80.991,1],
  [81.072,0.975],[81.092,0.885],[81.099,0.975],[81.139,0.93],[81.186,0.845],
  [81.22,1],[81.233,0.955],[81.253,1],[81.274,1],[81.314,0.985],[81.321,0.905],
  [81.435,0.945],[81.475,0.955],[81.482,1],[81.496,0.985],[81.516,0.965],[81.543,0.875],[81.549,1],[81.556,0.955],
  [81.603,0.795],[81.617,0.985],[81.623,0.965],[81.63,0.915],[81.657,0.825],[81.664,0.955],[81.677,1],[81.731,1],
  [81.785,0.985],[81.805,1],[81.818,0.985],[81.832,0.975],[81.845,0.965],[81.852,0.765],[81.886,0.985],[81.906,0.885],[81.926,1],
  [81.966,1],[81.973,1],[82.02,0.875],[82.027,0.935],[82.034,1],[82.054,0.815],[82.058,0.975],
  [80.567,0.475],[80.594,0.505],[80.614,0.56],[80.615,0.405],[80.641,0.55],[80.648,0.47],[80.655,0.245],[80.661,0.53],[80.668,0.5],[80.675,0.39],[80.682,0.36],[80.688,0.68],[80.702,0.39],[80.713,0.38],[80.722,0.54],[80.729,0.365],[80.735,0.43],
  [80.756,0.5],[80.762,0.39],[80.769,0.52],[80.789,0.54],[80.809,0.56],[80.816,0.52],[80.836,0.35],[80.837,0.48],[80.843,0.57],[80.857,0.54],[80.863,0.43],[80.877,0.43],
  [81.469,0.58],[81.471,0.49],[81.475,0.43],[81.496,0.47],[81.697,0.31],[82.067,0.55],
  [80.52,0],[80.53,0.125],[80.561,0],[80.601,0],[80.641,0],[80.655,0.04],[80.709,0.045],[80.715,0],[80.749,0],
  [80.951,0],[80.964,0.015],[80.978,0.025],[80.984,0],[81.018,0.025],[81.025,0.125],[81.038,0],[81.065,0.045],
  [81.146,0],[81.173,0.025],[81.2,0.085],[81.213,0],[81.227,0.055],[81.28,0.055],[81.314,0.075],[81.321,0],[81.341,0],
  [81.475,0.025],[81.489,0],[81.516,0.125],[81.522,0.065],[81.529,0.025],[81.536,0.095],[81.543,0],[81.549,0.195],[81.556,0.025],[81.583,0.045],[81.596,0.055],[81.61,0],
  [81.664,0],[81.697,0.045],[81.711,0.025],[81.738,0],[81.792,0.125],[81.798,0],[81.825,0],[81.839,0.055],[81.852,0],[81.872,0.025],[81.886,0.065],[81.892,0],[81.899,0.025],[81.913,0.075],[81.926,0.105],
  [81.953,0.115],[81.96,0],[81.98,0],[81.993,0],[82.02,0.045],[82.041,0.025],[82.054,0.115],[82.061,0.095],[82.067,0.015],[82.087,0]
];
const lrr0900 = [
  [80.505,0.05],[80.51,0.25],[80.515,0.35],[80.52,0.1],[80.525,-0.1],[80.53,-0.28],[80.535,0.38],[80.54,0.05],[80.545,-0.15],[80.55,0.42],[80.56,0.2],[80.565,-0.05],[80.57,0.3],[80.58,-0.25],[80.585,0.1],[80.59,0.0],
  [80.6,0.2],[80.61,0.1],[80.615,0.45],[80.62,-0.2],[80.625,-0.32],[80.63,0.2],[80.635,0.0],[80.64,-0.1],[80.645,0.15],[80.65,-0.25],[80.655,0.05],[80.66,0.2],[80.665,0.56],[80.67,-0.15],[80.68,0.1],[80.69,-0.05],
  [80.7,0.15],[80.705,-0.2],[80.71,0.4],[80.715,0.1],[80.72,0.56],[80.725,0.25],[80.73,-0.28],[80.74,0.0],[80.745,0.3],[80.75,-0.1],[80.76,0.2],[80.765,-0.05],[80.77,-0.25],[80.775,-0.72],[80.78,0.15],[80.79,0.05],
  [80.8,0.25],[80.805,0.46],[80.81,0.1],[80.815,-0.35],[80.82,0.2],[80.83,-0.2],[80.835,0.0],[80.84,0.15],[80.85,-0.3],[80.855,-0.1],[80.86,0.1],[80.87,-0.35],[80.875,0.05],[80.88,-0.2],[80.882,1.5],[80.895,0.0],
  [80.9,0.17],[80.905,-0.4],[80.91,-0.05],[80.92,0.42],[80.925,0.0],[80.93,-0.2],[80.94,0.1],[80.945,-0.3],[80.95,0.2],[80.96,0.15],[80.965,-0.1],[80.97,0.05],[80.98,0.25],[80.985,-0.15],[80.99,0.0],
  [81.0,-0.32],[81.005,-0.42],[81.01,0.2],[81.02,0.1],[81.025,-0.15],[81.03,0.0],[81.035,-0.25],[81.04,0.15],[81.05,0.05],[81.055,-0.35],[81.06,0.1],[81.07,-0.05],[81.075,0.2],[81.08,-0.2],[81.09,0.0],
  [81.1,0.1],[81.11,0.35],[81.115,-0.2],[81.12,0.25],[81.125,-0.38],[81.13,0.0],[81.14,0.15],[81.145,-0.1],[81.15,0.3],[81.16,-0.3],[81.165,0.05],[81.17,0.2],[81.18,-0.15],[81.19,0.1],
  [81.2,0.25],[81.205,-0.3],[81.21,0.1],[81.22,0.48],[81.225,0.0],[81.23,-0.2],[81.24,0.2],[81.245,-0.15],[81.25,0.15],[81.26,0.05],[81.265,-0.35],[81.27,0.42],[81.28,0.1],[81.285,-0.58],[81.29,0.0],
  [81.3,-0.46],[81.305,-0.3],[81.31,0.1],[81.315,-0.2],[81.32,0.2],[81.33,0.0],[81.335,0.3],[81.34,-0.1],[81.345,0.15],[81.35,0.05],[81.37,0.1],[81.375,-0.05],
  [81.39,0.37],[81.395,0.1],[81.4,-0.3],[81.41,-0.52],[81.415,-0.1],[81.42,0.2],[81.43,0.0],[81.44,-0.2],[81.45,0.1],[81.46,0.8],[81.465,0.25],[81.47,-0.05],[81.48,0.05],[81.49,-0.15],
  [81.5,0.3],[81.505,-0.35],[81.51,0.05],[81.52,0.2],[81.525,-0.15],[81.53,0.0],[81.54,0.25],[81.545,-0.2],[81.55,0.1],[81.56,0.3],[81.57,-0.05],[81.58,0.15],[81.59,-0.59],[81.595,0.05],
  [81.6,0.3],[81.605,-0.1],[81.61,0.15],[81.615,-0.35],[81.62,0.2],[81.63,0.0],[81.64,0.42],[81.645,-0.25],[81.65,0.1],[81.66,0.35],[81.67,-0.45],[81.675,0.05],[81.68,-0.15],[81.69,0.2],
  [81.7,0.1],[81.705,0.4],[81.71,-0.58],[81.715,0.1],[81.72,-0.2],[81.73,0.0],[81.74,0.2],[81.745,0.05],[81.75,-0.15],[81.76,0.1],[81.77,0.49],[81.775,0.15],[81.78,-0.1],[81.79,0.05],
  [81.8,0.3],[81.805,-0.3],[81.81,0.1],[81.82,0.0],[81.825,-0.2],[81.83,0.2],[81.84,0.05],[81.85,0.49],[81.855,0.35],[81.86,-0.1],[81.87,0.05],[81.875,-0.25],[81.88,0.2],[81.89,-0.05],
  [81.9,-0.48],[81.905,0.3],[81.91,0.1],[81.92,-0.2],[81.925,0.0],[81.93,0.15],[81.94,-0.1],[81.95,0.05],[81.96,0.2],[81.965,-0.25],[81.97,0.1],[81.98,-0.05],[81.99,0.15],
  [82.0,0.25],[82.01,0.05],[82.02,-0.1],[82.025,-0.35],[82.046,0.9],[82.035,0.1],[82.04,-0.1],[82.05,0.25],[82.055,0.0],[82.06,-0.2],[82.07,0.2],[82.08,0.25],[82.085,-0.1],[82.09,0.05],[82.1,-0.3],
  [80.502,0.1],[80.508,-0.05],[80.512,0.2],[80.518,0.0],[80.522,0.15],[80.528,-0.2],[80.532,0.05],[80.538,0.2],[80.542,-0.1],[80.548,0.1],[80.552,0.0],[80.558,-0.2],[80.562,0.15],[80.568,0.05],[80.572,-0.1],[80.578,0.2],[80.588,-0.15],[80.598,0.05],[80.608,-0.1],[80.618,0.15],
  [80.628,0.0],[80.638,0.1],[80.648,-0.2],[80.658,0.1],[80.668,0.0],[80.678,-0.1],[80.688,0.15],[80.698,0.0],[80.708,0.05],[80.718,-0.1],[80.728,0.1],[80.738,-0.15],[80.748,0.05],[80.758,0.0],[80.768,0.1],[80.778,-0.1],[80.788,0.2],[80.798,-0.15],[80.808,0.05],[80.818,0.0],
  [80.828,0.1],[80.838,-0.1],[80.848,0.05],[80.858,-0.2],[80.868,0.1],[80.878,0.0],[80.888,-0.1],[80.898,0.1],[80.908,0.05],[80.918,-0.15],[80.928,0.1],[80.938,-0.05],[80.948,0.0],[80.958,-0.2],[80.968,0.15],[80.978,0.05],[80.988,0.1],[80.998,-0.1],[81.008,0.05],[81.018,-0.05],
  [81.028,0.12],[81.038,-0.2],[81.048,0.0],[81.058,0.1],[81.068,-0.15],[81.078,0.05],[81.088,0.15],[81.098,-0.1],[81.108,0.05],[81.118,0.15],[81.128,0.05],[81.138,-0.05],[81.148,0.1],[81.158,0.0],[81.168,-0.1],[81.178,0.15],[81.188,0.05],[81.198,-0.05],[81.208,0.15],[81.218,0.0],
  [81.228,0.1],[81.238,-0.1],[81.248,0.05],[81.258,0.2],[81.268,-0.05],[81.278,0.0],[81.288,0.1],[81.298,-0.2],[81.308,0.05],[81.318,0.25],[81.328,0.1],[81.338,-0.05],[81.348,0.2],[81.355,0.1],[81.378,0.05],[81.382,-0.15],[81.398,0.0],[81.408,-0.1],[81.418,0.1],[81.428,-0.15],
  [81.438,0.05],[81.448,0.0],[81.458,-0.1],[81.468,0.1],[81.478,-0.2],[81.488,0.05],[81.498,0.15],[81.508,-0.1],[81.518,0.05],[81.528,0.2],[81.538,-0.05],[81.548,0.1],[81.558,-0.15],[81.568,0.05],[81.578,0.2],[81.588,0.0],[81.598,-0.15],[81.608,0.05],[81.618,0.25],[81.628,-0.1],
  [81.638,0.1],[81.648,0.0],[81.658,0.05],[81.668,-0.15],[81.678,0.2],[81.688,0.0],[81.698,-0.1],[81.708,0.2],[81.718,0.05],[81.728,-0.1],[81.738,0.1],[81.748,0.0],[81.758,-0.2],[81.768,0.05],[81.778,-0.05],[81.788,0.15],[81.798,0.0],[81.808,0.1],[81.818,-0.1],[81.828,0.05],
  [81.838,0.15],[81.848,-0.15],[81.858,0.1],[81.868,0.2],[81.878,0.0],[81.888,-0.1],[81.898,0.1],[81.908,-0.2],[81.918,0.05],[81.928,-0.1],[81.938,0.1],[81.948,0.0],[81.958,-0.1],[81.968,0.05],[81.978,0.1],[81.988,-0.1],[81.998,0.0],[82.008,0.15],[82.018,0.05],[82.028,0.2],
  [82.038,-0.05],[82.048,0.05],[82.058,0.15],[82.068,-0.1],[82.078,0.0],[82.088,0.1],[82.098,-0.05]
];
const lrr0900Dup = [[81.364,0.61],[81.36,0.35],[81.367,0.18],[81.388,0.47],[81.391,0.3]];

// ---- SF_0181, GRM1 region ----
const baf0181 = [
  [145.855,1],[145.862,1],[145.876,0.99],[145.89,1],[145.897,0.98],[145.903,1],[145.917,1],[145.938,1],
  [146.007,1],[146.021,1],[146.041,1],[146.062,1],[146.083,1],[146.103,1],[146.117,1],[146.131,1],
  [146.172,1],[146.193,1],[146.214,1],[146.235,1],[146.255,1],[146.262,0.99],
  [146.345,0.99],[146.372,0.98],[146.414,0.99],[146.448,1],
  [146.552,1],[146.572,1],[146.593,1],[146.614,1],[146.634,1],
  [146.669,1],[146.69,1],[146.71,1],[146.724,1],[146.738,1],
  [146.793,1],[146.869,1],[146.883,1],[146.897,1],[146.91,1],
  [146.966,0.965],[146.972,1],[146.993,1],[147.014,1],[147.034,1],[147.055,1],[147.076,1],
  [147.103,0.965],[147.117,1],[147.159,1],[147.179,1],[147.2,1],[147.214,1],
  [147.262,1],[147.283,1],[147.303,1],[147.331,1],[147.352,1],[147.365,0.99],[147.379,1],[147.393,0.985],[147.4,0.935],
  [145.87,1],[145.88,1],[145.91,1],[145.925,1],[145.945,1],[146.0,1],[146.014,1],[146.028,1],[146.05,1],[146.07,1],[146.09,1],[146.11,1],[146.124,1],[146.179,1],[146.2,1],[146.221,1],[146.241,1],[146.269,1],
  [146.352,0.99],[146.379,0.99],[146.42,1],[146.455,1],[146.56,1],[146.58,1],[146.6,1],[146.62,1],[146.676,1],[146.697,1],[146.717,1],[146.731,1],[146.876,1],[146.89,1],[146.904,1],
  [146.98,1],[147.0,1],[147.021,1],[147.041,1],[147.062,1],[147.083,1],[147.166,1],[147.186,1],[147.207,1],[147.27,1],[147.29,1],[147.31,1],[147.32,1],[147.345,1],[147.37,1],[147.386,1],
  [146.731,0.505],[146.738,0.53],[146.752,0.505],[146.759,0.525],[146.766,0.485],[146.772,0.545],[146.779,0.515],[146.786,0.495],[146.793,0.475],[146.797,0.585],[146.8,0.465],[146.803,0.42],
  [147.007,0.615],[147.0,0.48],[147.014,0.485],[147.021,0.465],[147.022,0.525],[147.028,0.505],[147.034,0.545],[147.041,0.455],[147.048,0.515],[147.062,0.4],[147.069,0.465],[147.076,0.525],[147.083,0.495],[147.09,0.465],[147.103,0.515],[147.117,0.525],[147.131,0.495],[147.145,0.485],[147.159,0.555],[147.166,0.465],[147.186,0.525],
  [147.221,0.555],[147.228,0.515],[147.234,0.495],[147.241,0.535],[147.248,0.475],[147.255,0.505],[147.262,0.525],[147.269,0.465],[147.276,0.495],[147.26,0.46],
  [145.862,0],[145.89,0.01],[145.903,0],[145.938,0],[145.945,0.02],[145.952,0.01],
  [145.982,0.065],[146.014,0],[146.041,0],[146.062,0.04],
  [146.131,0],[146.172,0],[146.2,0],[146.221,0],[146.248,0.01],[146.276,0],[146.303,0],
  [146.379,0.04],[146.393,0.075],[146.4,0.025],[146.402,0],[146.448,0],[146.469,0.015],[146.483,0.025],
  [146.586,0.035],[146.587,0],[146.628,0.015],[146.641,0],[146.655,0.06],[146.676,0],[146.69,0],[146.731,0],[146.772,0],
  [146.834,0],[146.876,0],[146.897,0],[146.917,0],[146.938,0],[146.966,0],
  [147.103,0.05],[147.117,0],[147.159,0.085],[147.179,0],
  [147.262,0],[147.297,0],[147.324,0.01],[147.338,0],[147.352,0.01],[147.4,0],
  [145.87,0],[145.88,0],[145.91,0],[145.93,0],[146.03,0],[146.145,0],[146.186,0],[146.207,0],[146.235,0],[146.26,0],[146.29,0],[146.46,0.01],[146.6,0.02],[146.61,0],[146.66,0],[146.7,0],[146.745,0],[146.78,0],
  [146.85,0],[146.89,0],[146.93,0],[146.95,0],[147.27,0],[147.28,0.005],[147.31,0],[147.345,0],[147.365,0],[147.39,0]
];
const lrr0181 = [
  [145.83,0.2],[145.835,0.0],[145.84,-0.05],[145.845,-0.15],[145.85,0.1],[145.855,-0.18],[145.86,0.25],[145.865,0.05],[145.87,0.28],[145.88,0.1],[145.885,0.22],[145.892,-0.32],[145.895,-0.1],
  [145.9,0.2],[145.91,0.51],[145.915,0.05],[145.92,-0.08],[145.925,-0.2],[145.93,0.15],[145.934,-0.62],[145.94,0.2],[145.945,-0.1],[145.955,0.0],[145.96,-0.15],[145.965,0.22],[145.973,0.39],[145.98,-0.05],[145.99,0.2],
  [146.0,-0.05],[146.005,0.12],[146.015,-0.2],[146.02,0.15],[146.033,0.34],[146.038,0.1],[146.044,-0.48],[146.05,0.05],[146.055,-0.22],[146.06,0.12],[146.07,0.0],[146.075,0.08],[146.08,-0.08],[146.09,0.18],
  [146.1,0.05],[146.105,-0.15],[146.11,0.2],[146.117,0.39],[146.125,-0.2],[146.13,0.1],[146.14,0.0],[146.145,0.25],[146.153,-0.23],[146.16,0.08],[146.17,0.1],[146.18,-0.13],[146.19,0.05],
  [146.2,0.23],[146.205,0.0],[146.21,-0.05],[146.22,0.1],[146.23,0.15],[146.24,-0.1],[146.245,0.05],[146.251,0.35],[146.258,0.47],[146.265,0.1],[146.27,-0.05],[146.28,0.2],[146.287,0.41],[146.295,0.0],
  [146.3,0.32],[146.305,-0.72],[146.31,0.15],[146.32,0.05],[146.325,-0.1],[146.33,0.2],[146.343,-0.37],[146.35,-0.12],[146.36,0.1],[146.368,0.6],[146.375,0.0],[146.38,0.2],[146.39,-0.22],[146.395,0.05],
  [146.4,0.4],[146.41,-0.15],[146.415,0.05],[146.42,0.15],[146.43,-0.1],[146.44,0.25],[146.45,0.0],[146.455,-0.2],[146.46,0.1],[146.47,0.2],[146.475,0.12],[146.48,-0.25],[146.49,0.05],[146.498,-0.37],
  [146.505,0.1],[146.51,-0.1],[146.52,0.15],[146.525,0.0],[146.53,-0.27],[146.535,0.32],[146.54,0.1],[146.545,0.25],[146.552,0.55],[146.56,-0.1],[146.565,0.15],[146.57,-0.2],[146.575,0.2],[146.59,0.0],
  [146.6,0.2],[146.605,-0.1],[146.61,0.1],[146.615,-0.25],[146.62,0.15],[146.628,-0.34],[146.635,0.2],[146.64,0.05],[146.65,0.1],[146.66,-0.2],[146.665,0.33],[146.67,0.4],[146.674,-0.4],[146.68,-0.1],[146.69,0.05],
  [146.7,0.1],[146.715,0.15],[146.72,-0.05],[146.725,-0.2],[146.73,0.3],[146.735,0.1],[146.745,0.2],[146.75,0.38],[146.755,-0.05],[146.765,0.05],[146.77,0.2],[146.775,-0.38],[146.78,-0.1],[146.79,0.1],
  [146.8,0.0],[146.805,0.18],[146.81,-0.2],[146.82,0.12],[146.825,-0.05],[146.83,0.05],[146.84,0.2],[146.85,-0.1],[146.855,0.15],[146.86,0.0],[146.87,0.25],[146.88,0.1],[146.885,-0.25],[146.893,-0.45],
  [146.9,0.3],[146.91,0.1],[146.92,-0.18],[146.925,0.15],[146.93,0.0],[146.935,0.2],[146.943,0.5],[146.946,-0.1],[146.95,0.05],[146.96,0.15],[146.965,-0.25],[146.975,0.1],[146.98,-0.2],[146.99,0.0],
  [146.999,-0.32],[147.0,0.15],[147.01,-0.1],[147.015,0.05],[147.025,0.2],[147.035,-0.15],[147.04,0.32],[147.045,0.1],[147.05,0.0],[147.06,-0.2],[147.065,0.15],[147.07,0.05],[147.08,-0.1],[147.09,0.2],[147.095,-0.05],
  [147.1,0.1],[147.105,0.2],[147.11,-0.2],[147.12,0.1],[147.126,0.48],[147.13,-0.1],[147.14,0.3],[147.145,0.15],[147.15,-0.2],[147.16,0.05],[147.168,-0.41],[147.175,0.12],[147.18,0.2],[147.19,0.0],[147.196,0.36],
  [147.2,0.25],[147.205,-0.25],[147.21,0.2],[147.22,0.1],[147.225,-0.15],[147.23,0.0],[147.238,0.39],[147.245,0.15],[147.255,-0.3],[147.26,0.15],[147.27,0.05],[147.28,-0.1],[147.288,0.39],[147.295,0.2],
  [147.3,-0.2],[147.305,0.1],[147.31,0.26],[147.32,-0.05],[147.33,0.15],[147.335,-0.25],[147.34,0.28],[147.35,0.0],[147.36,0.17],[147.365,-0.2],[147.37,0.12],[147.38,-0.1],[147.39,0.15],[147.395,-0.05],[147.4,-0.25],
  [145.828,0.0],[145.838,0.1],[145.848,-0.05],[145.858,0.05],[145.868,-0.1],[145.878,0.0],[145.888,0.15],[145.898,-0.05],[145.908,0.0],[145.918,-0.12],[145.928,0.1],[145.938,-0.05],[145.948,0.05],[145.958,-0.1],[145.968,0.0],[145.978,0.1],[145.988,-0.1],[145.998,0.05],[146.008,0.0],[146.018,0.1],
  [146.028,-0.1],[146.042,0.05],[146.052,-0.05],[146.062,0.05],[146.072,-0.05],[146.082,0.05],[146.092,0.0],[146.102,0.1],[146.112,0.0],[146.122,0.05],[146.132,-0.05],[146.142,0.1],[146.152,0.0],[146.162,-0.05],[146.172,0.05],[146.182,0.0],[146.192,-0.05],[146.202,0.05],[146.212,0.0],[146.222,-0.05],
  [146.232,0.0],[146.242,0.05],[146.252,0.1],[146.262,0.0],[146.272,0.05],[146.282,-0.05],[146.292,0.1],[146.302,0.0],[146.312,0.1],[146.322,-0.05],[146.332,0.05],[146.342,0.1],[146.352,0.0],[146.362,0.15],[146.372,-0.05],[146.382,0.05],[146.392,0.1],[146.402,0.0],[146.412,0.1],[146.422,-0.05],
  [146.432,0.2],[146.442,0.05],[146.452,0.15],[146.462,-0.1],[146.472,0.0],[146.482,0.1],[146.492,-0.15],[146.502,0.0],[146.512,-0.2],[146.522,0.05],[146.532,-0.1],[146.542,0.0],[146.552,-0.15],[146.562,0.1],[146.572,0.0],[146.582,0.15],[146.592,-0.1],[146.602,0.05],[146.612,0.2],[146.622,0.0],
  [146.632,0.1],[146.642,-0.15],[146.652,0.0],[146.662,0.1],[146.672,-0.05],[146.682,0.15],[146.692,0.0],[146.708,-0.1],[146.728,0.0],[146.738,0.1],[146.748,-0.1],[146.758,0.05],[146.768,0.15],[146.778,0.0],[146.788,-0.05],[146.798,0.05],[146.808,0.1],[146.818,-0.1],[146.828,0.0],[146.838,0.05],
  [146.848,-0.05],[146.858,0.05],[146.868,-0.1],[146.878,0.05],[146.888,0.1],[146.898,-0.1],[146.908,0.05],[146.918,0.15],[146.928,-0.05],[146.938,0.1],[146.948,0.0],[146.958,0.1],[146.968,-0.1],[146.978,0.05],[146.988,0.1],[146.998,-0.05],[147.008,0.05],[147.018,-0.05],[147.028,0.0],[147.038,-0.1],
  [147.048,0.05],[147.058,-0.05],[147.068,0.0],[147.078,0.1],[147.088,-0.05],[147.098,0.0],[147.108,-0.1],[147.118,0.05],[147.128,0.15],[147.138,-0.05],[147.148,0.0],[147.158,0.1],[147.168,0.0],[147.178,-0.1],[147.188,0.15],[147.198,0.05],[147.208,0.2],[147.218,-0.05],[147.228,0.1],[147.238,0.0],
  [147.248,0.1],[147.258,-0.1],[147.268,0.2],[147.278,0.1],[147.288,-0.05],[147.298,0.15],[147.308,-0.1],[147.318,0.05],[147.328,-0.15],[147.338,0.1],[147.348,-0.05],[147.358,0.05],[147.368,-0.1],[147.378,0.05],[147.388,-0.15],[147.398,0.1]
];
const lrr0181Dup = [[146.696,0.53],[146.713,0.53],[146.703,0.32],[146.71,0.27]];

// ---- styling ----
const BLUE = '#4F81BD', RED = '#FF0000', GREEN = '#00B050';
const GRID_GRAY = '#9a9a9a';
const LABEL_COLOR = '#2b2b2b';
const FONT = '"Open Sans", "Noto Sans", sans-serif';
const WIDE_FONT = '"DejaVu Sans", "Open Sans", sans-serif';

const panels = [
  { title: ['SF_1055 BAF ', 'SGTB', ' Deletion'], cx: 291, cy: 17, box: [121, 51, 385, 164],
    x: [64.1, 65.8, 0.1], y: [0, 1, 0.2], yMargin: 20, xMargin: 17, lrr: false, right: false,
    main: baf1055, marks: [] },
  { title: ['SF_0094 BAF ', 'USP24', ' Deletion'], cx: 776, cy: 13, box: [600, 47, 397, 164],
    x: [55.3, 56.7, 0.1], y: [0, 1, 0.2], yMargin: 9, xMargin: 20, lrr: false, right: true,
    main: baf0094, marks: [{ data: baf0094Del, color: RED }] },
  { title: ['SF_1055 LRR ', 'SGTB', ' Deletion'], cx: 291, cy: 293, box: [127, 327, 379, 164],
    x: [64.1, 65.8, 0.1], y: [-1.5, 1, 0.5], yMargin: 19, xMargin: 19, lrr: true, right: false,
    main: lrr1055, marks: [{ data: lrr1055Del, color: RED }] },
  { title: ['SF_0094 LRR ', 'USP24', ' Deletion'], cx: 776, cy: 293, box: [606, 327, 393, 164],
    x: [55.3, 56.7, 0.1], y: [-1, 1, 0.5], yMargin: 10, xMargin: 21, lrr: true, right: true,
    main: lrr0094, marks: [{ data: lrr0094Del, color: RED }] },
  { title: ['SF_0253 BAF ', 'CNTN4', ' Deletion'], cx: 291, cy: 562, box: [119, 596, 389, 165],
    x: [1.25, 2.6, 0.05], y: [0, 1, 0.2], yMargin: 19, xMargin: 21, lrr: false, right: false, halfStep: true,
    main: baf0253, marks: [] },
  { title: ['SF_0900 BAF ', 'CTNNA2', ' Duplication'], cx: 776, cy: 563, box: [600, 594, 398, 165],
    x: [80.5, 82.1, 0.1], y: [0, 1, 0.2], yMargin: 13, xMargin: 20, lrr: false, right: true, hideMax: true,
    main: baf0900, marks: [] },
  { title: ['SF_0253 LRR ', 'CNTN4', ' Deletion'], cx: 291, cy: 840, box: [126, 875, 382, 163],
    x: [1.25, 2.6, 0.05], y: [-1.5, 1, 0.5], yMargin: 18, xMargin: 20, lrr: true, right: false, halfStep: true,
    main: lrr0253, marks: [] },
  { title: ['SF_0900 LRR ', 'CTNNA2', ' Duplication'], cx: 776, cy: 840, box: [606, 874, 392, 165],
    x: [80.5, 82.1, 0.1], y: [-1, 2, 0.5], yMargin: 12, xMargin: 19, lrr: true, right: true, hideMax: true,
    main: lrr0900, marks: [{ data: lrr0900Dup, color: GREEN }] },
  { title: ['SF_0181 BAF ', 'GRM1', ' Duplication'], cx: 291, cy: 1110, box: [118, 1134, 387, 167],
    x: [145.8, 147.4, 0.1], y: [0, 1, 0.2], yMargin: 18, xMargin: 22, lrr: false, right: false,
    main: baf0181, marks: [] },
  { title: ['SF_0181 LRR ', 'GRM1', ' Duplication'], cx: 291, cy: 1388, box: [126, 1409, 378, 170],
    x: [145.8, 147.4, 0.1], y: [-1, 1, 0.5], yMargin: 19, xMargin: 21, lrr: true, right: false,
    main: lrr0181, marks: [{ data: lrr0181Dup, color: GREEN }] }
];

const fmtX = v => String(Math.round(v * 100) / 100);
const fmtY = v => String(Math.round(v * 10) / 10);

const grid = [], xAxis = [], yAxis = [], series = [], graphic = [];

panels.forEach((p, i) => {
  const [xmin, xmax, xstep] = p.x;
  const [ymin, ymax, ystep] = p.y;
  grid.push({ left: p.box[0], top: p.box[1], width: p.box[2], height: p.box[3] });

  const labelAxisIndex = xAxis.length;
  xAxis.push({
    gridIndex: i, type: 'value', min: xmin, max: xmax, interval: xstep, position: 'bottom',
    axisLine: { show: true, onZero: false, lineStyle: { color: GRID_GRAY, width: 1 } },
    axisTick: { show: !p.lrr && !p.halfStep, length: 5, lineStyle: { color: GRID_GRAY } },
    splitLine: { show: false },
    axisLabel: {
      rotate: -90, margin: p.xMargin, fontSize: 18, fontFamily: FONT, color: LABEL_COLOR,
      showMaxLabel: !p.hideMax, showMinLabel: true,
      formatter: p.halfStep
        ? (v => (Math.round((v - xmin) / xstep) % 2 === 0 ? fmtX(v) : ''))
        : fmtX
    }
  });
  // LRR panels: the horizontal axis crosses at zero with small tick marks
  if (p.lrr && !p.halfStep) {
    xAxis.push({
      gridIndex: i, type: 'value', min: xmin, max: xmax, interval: xstep, position: 'bottom',
      axisLine: { show: true, onZero: true, lineStyle: { color: GRID_GRAY, width: 1 } },
      axisTick: { show: true, length: 5, lineStyle: { color: GRID_GRAY } },
      axisLabel: { show: false }, splitLine: { show: false }
    });
  }
  yAxis.push({
    gridIndex: i, type: 'value', min: ymin, max: ymax, interval: ystep,
    axisLine: { show: true, onZero: false, lineStyle: { color: GRID_GRAY, width: 1 } },
    axisTick: { show: true, length: 6, lineStyle: { color: GRID_GRAY } },
    splitLine: { show: true, lineStyle: { color: GRID_GRAY, width: 1 } },
    axisLabel: {
      margin: p.yMargin, color: LABEL_COLOR, formatter: fmtY,
      fontSize: p.right ? 20 : 18, fontFamily: p.right ? WIDE_FONT : FONT
    }
  });

  series.push({
    type: 'scatter', xAxisIndex: labelAxisIndex, yAxisIndex: i, data: p.main,
    symbol: 'diamond', symbolSize: 9, itemStyle: { color: BLUE, opacity: 1 }, silent: true
  });
  p.marks.forEach(m => series.push({
    type: 'scatter', xAxisIndex: labelAxisIndex, yAxisIndex: i, data: m.data,
    symbol: 'diamond', symbolSize: 9, itemStyle: { color: m.color, opacity: 1 }, silent: true, z: 5
  }));

  graphic.push({
    type: 'text', x: p.cx, y: p.cy, silent: true,
    style: {
      text: '{b|' + p.title[0] + '}{i|' + p.title[1] + '}{b|' + p.title[2] + '}',
      align: 'center', verticalAlign: 'middle',
      rich: {
        b: { fontSize: 20, fontWeight: 'bold', fontFamily: FONT, fill: '#000' },
        i: { fontSize: 20, fontWeight: 'bold', fontStyle: 'italic', fontFamily: FONT, fill: '#000' }
      }
    }
  });
});

// frame rules between figure rows and the figure part numbers
const SEP = '#8c8c8c';
graphic.push(
  { type: 'rect', shape: { x: 68, y: 0, width: 365, height: 3 }, style: { fill: '#000' }, silent: true },
  { type: 'line', shape: { x1: 68, y1: 275.5, x2: 538, y2: 275.5 }, style: { stroke: SEP, lineWidth: 1.5 }, silent: true },
  { type: 'line', shape: { x1: 545, y1: 271.5, x2: 1004, y2: 271.5 }, style: { stroke: SEP, lineWidth: 1.5 }, silent: true },
  { type: 'line', shape: { x1: 68, y1: 820.5, x2: 538, y2: 820.5 }, style: { stroke: SEP, lineWidth: 1.5 }, silent: true },
  { type: 'line', shape: { x1: 545, y1: 820.5, x2: 1004, y2: 820.5 }, style: { stroke: SEP, lineWidth: 1.5 }, silent: true },
  { type: 'line', shape: { x1: 68, y1: 1369.5, x2: 538, y2: 1369.5 }, style: { stroke: SEP, lineWidth: 1.5 }, silent: true }
);
[['2', 12, 543], ['3', 13, 1089], ['4', 13, 1637]].forEach(([t, x, y]) => graphic.push({
  type: 'text', x, y, silent: true,
  style: { text: t, fontSize: 28, fontFamily: '"Liberation Serif", "DejaVu Serif", serif', fill: '#000', align: 'center', verticalAlign: 'middle' }
}));

const chart = echarts.init(document.getElementById('chart'), null, { renderer: 'canvas', width: 1004, height: 1651 });
chart.setOption({
  backgroundColor: '#ffffff',
  animation: false,
  grid, xAxis, yAxis, series, graphic
});
</script>
</body>
</html>
